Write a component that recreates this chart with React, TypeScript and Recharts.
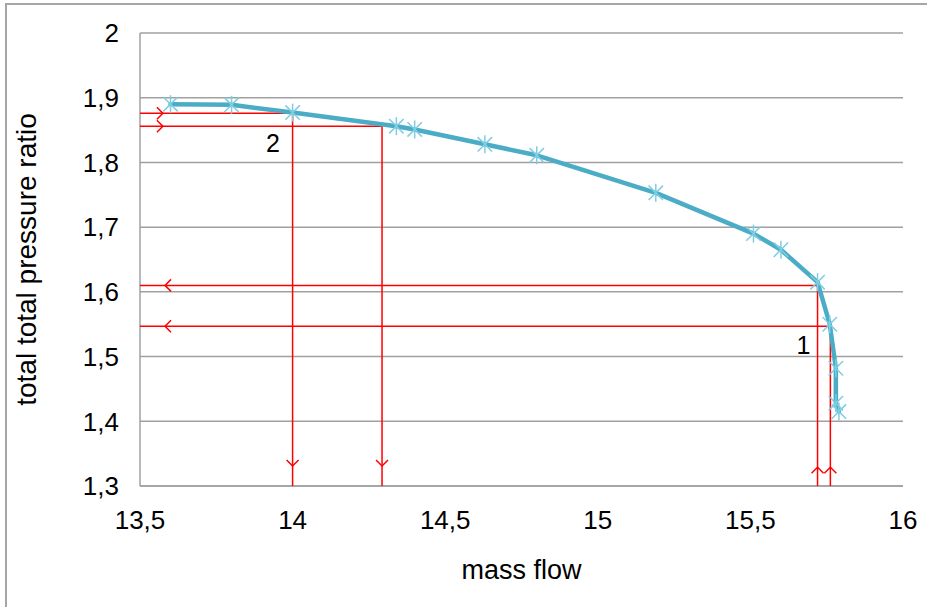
import { ScatterChart, Scatter, XAxis, YAxis, CartesianGrid, Label } from 'recharts'

// compressor characteristic
const massFlow = [13.6, 13.8, 14.0, 14.34, 14.4, 14.63, 14.8, 15.19, 15.51, 15.6, 15.72, 15.76, 15.78, 15.78, 15.79]
const pressureRatio = [1.89, 1.889, 1.877, 1.856, 1.851, 1.828, 1.811, 1.753, 1.69, 1.665, 1.615, 1.55, 1.482, 1.428, 1.415]

const xTicks = [13.5, 14, 14.5, 15, 15.5, 16]
const yTicks = [1.3, 1.4, 1.5, 1.6, 1.7, 1.8, 1.9, 2]

// red helper lines: [ratio, flow] -> from the y axis to the point and down to the x axis
const helperLines = [
  [1.876, 14.0],
  [1.856, 14.293],
  [1.61, 15.72],
  [1.547, 15.762],
]

const arrows = [
  { x: 13.575, y: 1.876, dir: 'right' },
  { x: 13.575, y: 1.856, dir: 'right' },
  { x: 13.582, y: 1.61, dir: 'left' },
  { x: 13.582, y: 1.547, dir: 'left' },
  { x: 14.0, y: 1.331, dir: 'down' },
  { x: 14.293, y: 1.331, dir: 'down' },
  { x: 15.72, y: 1.329, dir: 'up' },
  { x: 15.762, y: 1.329, dir: 'up' },
]

const notes = [
  { x: 13.936, y: 1.83, text: '2' },
  { x: 15.674, y: 1.518, text: '1' },
]

const curve = massFlow.map((x, i) => ({ x, y: pressureRatio[i] }))
const fmt = (v: number) => String(v).replace('.', ',')
const font = '"Liberation Sans", Arial, sans-serif'

const Star = ({ cx, cy }: any) => {
  const r = 9
  return (
    <g stroke="#7fcde2" strokeWidth={1.5}>
      <line x1={cx - r * 0.8} y1={cy - r * 0.8} x2={cx + r * 0.8} y2={cy + r * 0.8} />
      <line x1={cx - r * 0.8} y1={cy + r * 0.8} x2={cx + r * 0.8} y2={cy - r * 0.8} />
      <line x1={cx} y1={cy - r} x2={cx} y2={cy + r} />
    </g>
  )
}

const Arrow = ({ cx, cy, payload }: any) => {
  const a = 6
  const pts: Record<string, string> = {
    left: `${cx + a},${cy - a} ${cx},${cy} ${cx + a},${cy + a}`,
    right: `${cx - a},${cy - a} ${cx},${cy} ${cx - a},${cy + a}`,
    down: `${cx - a},${cy - a} ${cx},${cy} ${cx + a},${cy - a}`,
    up: `${cx - a},${cy + a} ${cx},${cy} ${cx + a},${cy + a}`,
  }
  return <polyline points={pts[payload.dir]} fill="none" stroke="#ff0000" strokeWidth={1.5} />
}

const Note = ({ cx, cy, payload }: any) => (
  <text x={cx} y={cy} textAnchor="middle" dominantBaseline="central" fontSize={25} fontFamily={font} fill="#000">
    {payload.text}
  </text>
)

const NoMark = () => <g />

export default function App() {
  return (
    <div style={{ position: 'fixed', left: 0, top: 0, width: 927, height: 607, overflow: 'hidden', background: '#fff' }}>
      <div style={{ position: 'absolute', left: 5, top: 3, width: 1000, height: 700, border: '2px solid #a6a6a6' }} />
      <div style={{ position: 'absolute', left: 0, top: 0 }}>
        <ScatterChart width={927} height={607} margin={{ top: 33, right: 24, left: 0, bottom: 21 }}>
          <CartesianGrid vertical={false} stroke="#a0a0a0" strokeWidth={1.5} />
          <XAxis
            type="number"
            dataKey="x"
            domain={[13.5, 16]}
            ticks={xTicks}
            tickFormatter={fmt}
            height={100}
            tickLine={false}
            tickSize={0}
            tickMargin={25}
            axisLine={{ stroke: '#a0a0a0', strokeWidth: 1.5 }}
            tick={{ fill: '#000', fontSize: 26, fontFamily: font }}
          >
            <Label value="mass flow" position="insideBottom" offset={7} fill="#000" fontSize={27} fontFamily={font} />
          </XAxis>
          <YAxis
            type="number"
            dataKey="y"
            domain={[1.3, 2]}
            ticks={yTicks}
            tickFormatter={fmt}
            width={140}
            tickLine={false}
            tickSize={0}
            tickMargin={21}
            axisLine={{ stroke: '#a0a0a0', strokeWidth: 1.5 }}
            tick={{ fill: '#000', fontSize: 26, fontFamily: font }}
          >
            <Label
              value="total total pressure ratio"
              angle={-90}
              position="insideLeft"
              offset={26}
              style={{ textAnchor: 'middle' }}
              fill="#000"
              fontSize={28}
              fontFamily={font}
            />
          </YAxis>
          {helperLines.map(([ratio, flow], i) => (
            <Scatter
              key={i}
              data={[
                { x: 13.5, y: ratio },
                { x: flow, y: ratio },
                { x: flow, y: 1.3 },
              ]}
              line={{ stroke: '#ff0000', strokeWidth: 1.5 }}
              shape={NoMark}
              isAnimationActive={false}
            />
          ))}
          <Scatter data={arrows} shape={Arrow} isAnimationActive={false} />
          <Scatter
            data={curve}
            line={{ stroke: '#4bacc6', strokeWidth: 4.5, strokeLinejoin: 'round', strokeLinecap: 'round' }}
            shape={Star}
            isAnimationActive={false}
          />
          <Scatter data={notes} shape={Note} isAnimationActive={false} />
        </ScatterChart>
      </div>
    </div>
  )
}
